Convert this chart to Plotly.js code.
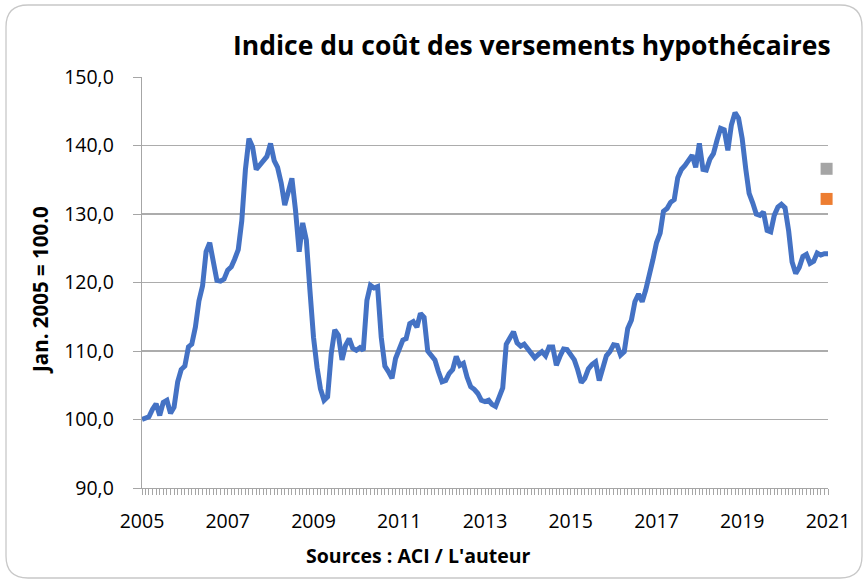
<!DOCTYPE html>
<html>
<head>
<meta charset="utf-8">
<script src="https://cdn.plot.ly/plotly-3.0.1.min.js"></script>
<style>
html,body{margin:0;padding:0;background:#fff;}
#chart{width:865px;height:583px;}
</style>
</head>
<body>
<div id="chart"></div>
<script>
// Monthly index, Jan 2005 .. Jan 2021 (Jan 2005 = 100)
const startYear = 2005;
const indexValues = [
100.0,100.3,100.4,101.5,102.3,100.6,102.5,102.8,100.9,101.8,105.5,107.3,
107.8,110.6,111.0,113.5,117.3,119.5,124.5,125.8,122.5,120.3,120.2,120.5,
121.8,122.3,123.4,124.8,129.0,136.5,141.0,139.8,136.5,137.2,137.9,138.4,
140.3,137.8,136.8,134.5,131.3,133.3,135.2,130.5,124.5,128.7,126.2,119.0,
112.0,107.5,104.5,102.8,103.3,109.6,113.1,112.3,108.7,110.8,111.8,110.4,
110.1,110.5,110.1,117.4,119.6,119.2,119.4,112.0,107.8,107.0,106.0,108.9,
110.1,111.6,111.8,114.0,114.3,113.5,115.5,114.9,110.0,109.4,108.7,107.0,
105.5,105.7,106.7,107.3,109.2,107.9,108.2,106.2,104.8,104.4,103.8,102.8,
102.6,102.8,102.2,101.9,103.1,104.6,111.0,112.1,112.8,111.2,110.7,111.0,
110.3,109.7,109.0,109.5,109.9,109.3,110.6,110.6,107.9,109.2,110.3,110.2,
109.3,108.7,107.3,105.4,106.0,107.4,108.0,108.4,105.7,107.7,109.3,109.9,
110.9,110.8,109.4,109.9,113.3,114.5,117.2,118.3,117.2,118.9,120.8,123.3,
125.8,127.2,130.4,130.8,131.7,132.1,135.3,136.5,137.1,138.0,138.6,136.8,
140.3,136.5,136.4,138.0,138.8,140.8,142.5,142.3,139.3,143.0,144.8,144.0,
141.0,136.5,133.0,131.6,130.0,129.8,130.3,127.6,127.4,129.8,131.0,131.4,
130.9,127.5,123.0,121.3,122.2,123.8,124.1,122.8,123.1,124.3,124.0,124.2,
124.2
];
const extraDate = ['2020-12-20'];
const greyValue = [136.6];
const orangeValue = [132.2];
const xTickYears = ['2005','2007','2009','2011','2013','2015','2017','2019','2021'];

const dates = indexValues.map((v,i)=>{
  const y = startYear + Math.floor(i/12);
  const m = (i%12)+1;
  return y + '-' + (m<10?'0':'') + m + '-01';
});
const tickVals = xTickYears.map(y=>y+'-01-01');

// plot area in pixels
const L=142, R=828, T=77, B=488, W=865, H=583;
const px=(x)=> (x-L)/(R-L);
const py=(y)=> (B-y)/(B-T);
function roundRect(x0,y0,x1,y1,r){
  return 'M'+px(x0+r)+','+py(y0)+
    ' L'+px(x1-r)+','+py(y0)+
    ' Q'+px(x1)+','+py(y0)+' '+px(x1)+','+py(y0+r)+
    ' L'+px(x1)+','+py(y1-r)+
    ' Q'+px(x1)+','+py(y1)+' '+px(x1-r)+','+py(y1)+
    ' L'+px(x0+r)+','+py(y1)+
    ' Q'+px(x0)+','+py(y1)+' '+px(x0)+','+py(y1-r)+
    ' L'+px(x0)+','+py(y0+r)+
    ' Q'+px(x0)+','+py(y0)+' '+px(x0+r)+','+py(y0)+' Z';
}

const FONT = '"Open Sans", Arial, sans-serif';

const traces = [
  {x:dates, y:indexValues, type:'scatter', mode:'lines', cliponaxis:false,
   line:{color:'#4472c4', width:5, shape:'linear'}, hoverinfo:'x+y', showlegend:false},
  {x:extraDate, y:greyValue, type:'scatter', mode:'markers', cliponaxis:false,
   marker:{symbol:'square', size:12, color:'#a5a5a5', line:{width:0}}, showlegend:false},
  {x:extraDate, y:orangeValue, type:'scatter', mode:'markers', cliponaxis:false,
   marker:{symbol:'square', size:12, color:'#ed7d31', line:{width:0}}, showlegend:false}
];

const layout = {
  width:W, height:H,
  margin:{l:L, r:W-R, t:T, b:H-B, pad:0},
  paper_bgcolor:'#fff', plot_bgcolor:'#fff',
  separators:', ',
  font:{family:FONT, size:17, color:'#000'},
  showlegend:false,
  xaxis:{
    type:'date', range:['2005-01-01','2021-01-01'],
    tickmode:'array', tickvals:tickVals, ticktext:xTickYears,
    showgrid:false, zeroline:false,
    showline:true, linecolor:'#a6a6a6', linewidth:1.3,
    ticks:'outside', ticklen:6, tickcolor:'#a6a6a6', tickwidth:1,
    minor:{ticks:'outside', dtick:'M1', tick0:'2005-01-01', ticklen:6, tickcolor:'#a6a6a6', tickwidth:1, showgrid:false},
    tickfont:{family:FONT, size:19.5, color:'#000'},
    ticklabelstandoff:9,
    fixedrange:true
  },
  yaxis:{
    range:[90,150], tickvals:[90,100,110,120,130,140,150], tickformat:'.1f',
    showgrid:true, gridcolor:'#acacac', gridwidth:1.3,
    zeroline:false, showline:true, linecolor:'#a6a6a6', linewidth:1.3,
    ticks:'outside', ticklen:8, tickcolor:'#a6a6a6',
    tickfont:{family:FONT, size:19.5, color:'#000'},
    ticklabelstandoff:15,
    fixedrange:true
  },
  annotations:[
    {text:'<b>Indice du coût des versements hypothécaires</b>', xref:'paper', yref:'paper',
     x:px(532), y:py(45), xanchor:'center', yanchor:'middle', showarrow:false,
     font:{family:FONT, size:26.5, color:'#000'}},
    {text:'<b>Jan. 2005 = 100.0</b>', xref:'paper', yref:'paper',
     x:px(40), y:py(290), xanchor:'center', yanchor:'middle', showarrow:false, textangle:-90,
     font:{family:FONT, size:20.5, color:'#000'}},
    {text:'<b>Sources : ACI / L\'auteur</b>', xref:'paper', yref:'paper',
     x:px(418), y:py(555), xanchor:'center', yanchor:'middle', showarrow:false,
     font:{family:FONT, size:19.5, color:'#000'}}
  ],
  shapes:[
    {type:'path', xref:'paper', yref:'paper', path:roundRect(6,5,862,578,22),
     line:{color:'#c8c8c8', width:1.3}, fillcolor:'rgba(0,0,0,0)', layer:'below'}
  ]
};

Plotly.newPlot('chart', traces, layout, {displayModeBar:false, staticPlot:true});
</script>
</body>
</html>
